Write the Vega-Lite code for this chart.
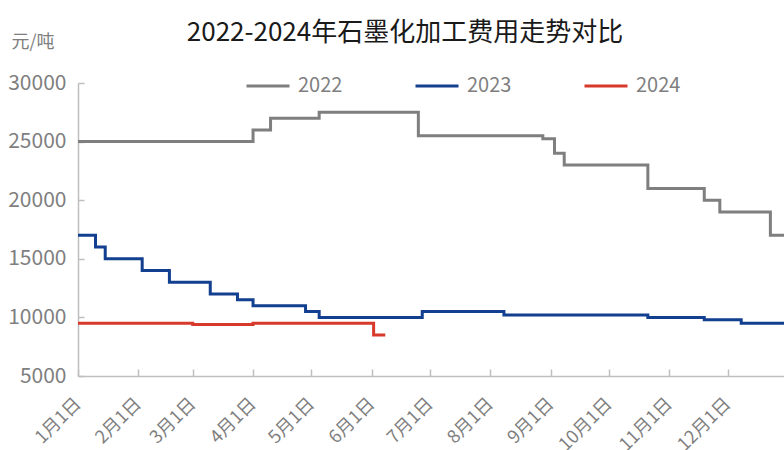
{
  "$schema": "https://vega.github.io/schema/vega-lite/v6.json",
  "autosize": "none",
  "padding": {"left": 78, "top": 83, "right": 0, "bottom": 74},
  "width": 706,
  "height": 293,
  "background": "white",
  "config": {
    "view": {"stroke": null},
    "font": "Noto Sans CJK SC"
  },
  "title": {
    "text": "2022-2024年石墨化加工费用走势对比",
    "fontSize": 26,
    "fontWeight": "normal",
    "color": "#1a1a1a",
    "anchor": "middle",
    "frame": "group",
    "dx": -26,
    "dy": 38,
    "baseline": "alphabetic",
    "offset": 4
  },
  "data": {
    "values": [
      {"year": "2022", "date": "2023-01-01T00:00:00", "price": 25000},
      {"year": "2022", "date": "2023-04-01T00:00:00", "price": 26000},
      {"year": "2022", "date": "2023-04-10T00:00:00", "price": 27000},
      {"year": "2022", "date": "2023-05-05T00:00:00", "price": 27500},
      {"year": "2022", "date": "2023-06-25T00:00:00", "price": 25500},
      {"year": "2022", "date": "2023-08-28T00:00:00", "price": 25250},
      {"year": "2022", "date": "2023-09-03T00:00:00", "price": 24000},
      {"year": "2022", "date": "2023-09-08T00:00:00", "price": 23000},
      {"year": "2022", "date": "2023-10-21T00:00:00", "price": 21000},
      {"year": "2022", "date": "2023-11-19T00:00:00", "price": 20000},
      {"year": "2022", "date": "2023-11-27T00:00:00", "price": 19000},
      {"year": "2022", "date": "2023-12-23T00:00:00", "price": 17000},
      {"year": "2022", "date": "2023-12-31T00:00:00", "price": 17000},
      {"year": "2023", "date": "2023-01-01T00:00:00", "price": 17000},
      {"year": "2023", "date": "2023-01-10T00:00:00", "price": 16000},
      {"year": "2023", "date": "2023-01-15T00:00:00", "price": 15000},
      {"year": "2023", "date": "2023-02-03T00:00:00", "price": 14000},
      {"year": "2023", "date": "2023-02-17T00:00:00", "price": 13000},
      {"year": "2023", "date": "2023-03-10T00:00:00", "price": 12000},
      {"year": "2023", "date": "2023-03-24T00:00:00", "price": 11500},
      {"year": "2023", "date": "2023-04-01T00:00:00", "price": 11000},
      {"year": "2023", "date": "2023-04-28T00:00:00", "price": 10500},
      {"year": "2023", "date": "2023-05-05T00:00:00", "price": 10000},
      {"year": "2023", "date": "2023-06-27T00:00:00", "price": 10500},
      {"year": "2023", "date": "2023-08-08T00:00:00", "price": 10200},
      {"year": "2023", "date": "2023-10-21T00:00:00", "price": 10000},
      {"year": "2023", "date": "2023-11-19T00:00:00", "price": 9800},
      {"year": "2023", "date": "2023-12-08T00:00:00", "price": 9500},
      {"year": "2023", "date": "2023-12-31T00:00:00", "price": 9500},
      {"year": "2024", "date": "2023-01-01T00:00:00", "price": 9500},
      {"year": "2024", "date": "2023-03-01T00:00:00", "price": 9400},
      {"year": "2024", "date": "2023-04-01T00:00:00", "price": 9500},
      {"year": "2024", "date": "2023-06-02T00:00:00", "price": 8500},
      {"year": "2024", "date": "2023-06-08T00:00:00", "price": 8500}
    ]
  },
  "mark": {"type": "line", "interpolate": "step-after", "strokeWidth": 3, "clip": true},
  "encoding": {
    "x": {
      "field": "date",
      "type": "temporal",
      "scale": {"domain": [{"year": 2023, "month": 1, "date": 1}, {"year": 2023, "month": 12, "date": 30}]},
      "axis": {
        "title": null,
        "values": [
          {"year": 2023, "month": 1, "date": 1},
          {"year": 2023, "month": 2, "date": 1},
          {"year": 2023, "month": 3, "date": 1},
          {"year": 2023, "month": 4, "date": 1},
          {"year": 2023, "month": 5, "date": 1},
          {"year": 2023, "month": 6, "date": 1},
          {"year": 2023, "month": 7, "date": 1},
          {"year": 2023, "month": 8, "date": 1},
          {"year": 2023, "month": 9, "date": 1},
          {"year": 2023, "month": 10, "date": 1},
          {"year": 2023, "month": 11, "date": 1},
          {"year": 2023, "month": 12, "date": 1}
        ],
        "labelExpr": "(month(datum.value)+1) + '月' + date(datum.value) + '日'",
        "labelAngle": -45,
        "labelAlign": "right",
        "labelBaseline": "middle",
        "labelFontSize": 18,
        "labelColor": "#7f7f7f",
        "labelPadding": 32,
        "labelFlush": false,
        "labelOverlap": false,
        "grid": false,
        "domainColor": "#bfbfbf",
        "domainWidth": 1.5,
        "tickColor": "#bfbfbf",
        "tickSize": -7,
        "tickWidth": 1.5
      }
    },
    "y": {
      "field": "price",
      "type": "quantitative",
      "scale": {"domain": [5000, 30000], "nice": false, "zero": false},
      "axis": {
        "values": [5000, 10000, 15000, 20000, 25000, 30000],
        "format": "d",
        "title": "元/吨",
        "titleAngle": 0,
        "titleAlign": "left",
        "titleBaseline": "middle",
        "titleX": -67,
        "titleY": -41,
        "titleFontSize": 18,
        "titleFontWeight": "normal",
        "titleColor": "#7f7f7f",
        "labelFontSize": 21,
        "labelColor": "#7f7f7f",
        "labelPadding": 18,
        "labelFlush": false,
        "grid": false,
        "domainColor": "#bfbfbf",
        "domainWidth": 1.5,
        "tickColor": "#bfbfbf",
        "tickSize": -6,
        "tickWidth": 1.5
      }
    },
    "color": {
      "field": "year",
      "type": "nominal",
      "scale": {"domain": ["2022", "2023", "2024"], "range": ["#7f7f7f", "#123f8f", "#d7392b"]},
      "legend": {
        "title": null,
        "orient": "none",
        "direction": "horizontal",
        "legendX": 167,
        "legendY": -20,
        "padding": 0,
        "symbolType": "stroke",
        "symbolSize": 1849,
        "symbolStrokeWidth": 3,
        "labelFontSize": 20,
        "labelColor": "#7f7f7f",
        "labelOffset": 7,
        "columnPadding": 66
      }
    }
  }
}
